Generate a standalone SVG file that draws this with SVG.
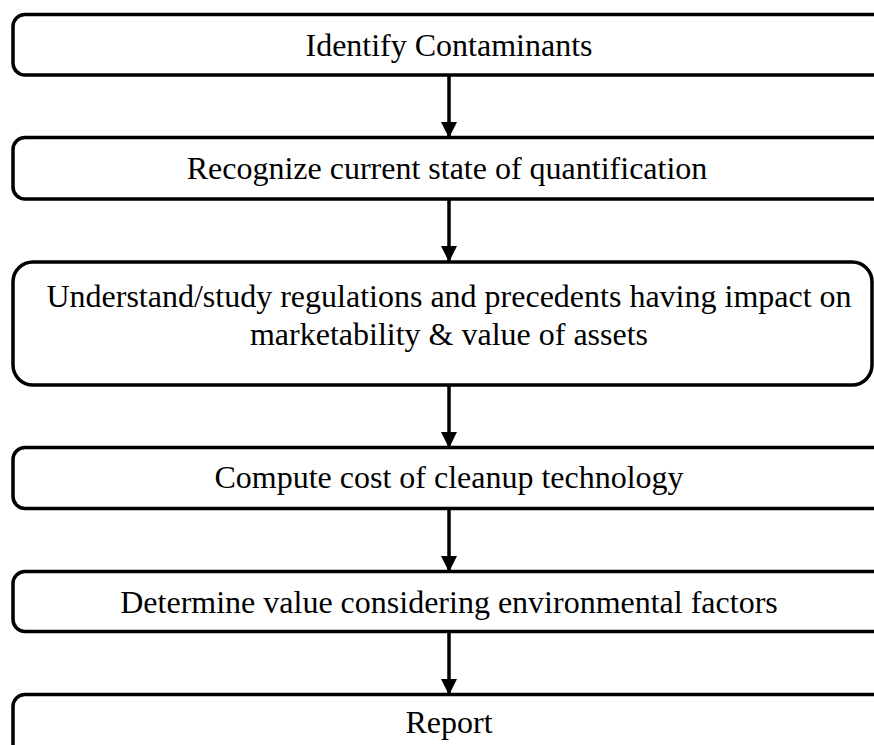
<svg xmlns="http://www.w3.org/2000/svg" width="874" height="745" viewBox="0 0 874 745">
<style>
.box{fill:#fff;stroke:#000;stroke-width:3.5}
.lbl{font-family:"Liberation Serif","Times New Roman",serif;font-size:32px;fill:#000;text-anchor:middle}
.conn{stroke:#000;stroke-width:3.5;fill:none;marker-end:url(#ah)}
</style>
<defs>
<marker id="ah" markerUnits="userSpaceOnUse" markerWidth="16" markerHeight="17" refX="15" refY="8" orient="auto">
<path d="M0,0 L16,8 L0,16 Z" fill="#000"/>
</marker>
</defs>
<rect width="874" height="745" fill="#fff"/>
<g id="n1"><rect class="box" x="13" y="14.5" width="890" height="60.5" rx="12"/><text class="lbl" x="449" y="56">Identify Contaminants</text></g>
<g id="n2"><rect class="box" x="13" y="137.5" width="890" height="61.5" rx="12"/><text class="lbl" x="447" y="179">Recognize current state of quantification</text></g>
<g id="n3"><rect class="box" x="13" y="262" width="859" height="123" rx="20"/><text class="lbl" x="449" y="307">Understand/study regulations and precedents having impact on</text><text class="lbl" x="449" y="345">marketability &amp; value of assets</text></g>
<g id="n4"><rect class="box" x="13" y="447.5" width="890" height="61" rx="12"/><text class="lbl" x="449" y="488">Compute cost of cleanup technology</text></g>
<g id="n5"><rect class="box" x="13" y="571.5" width="890" height="60" rx="12"/><text class="lbl" x="449" y="613">Determine value considering environmental factors</text></g>
<g id="n6"><rect class="box" x="13" y="694.5" width="890" height="80" rx="12"/><text class="lbl" x="449" y="733">Report</text></g>
<g id="connectors">
<line class="conn" x1="449" y1="75" x2="449" y2="137"/>
<line class="conn" x1="449" y1="199" x2="449" y2="261"/>
<line class="conn" x1="449" y1="385" x2="449" y2="447"/>
<line class="conn" x1="449" y1="509" x2="449" y2="571"/>
<line class="conn" x1="449" y1="632" x2="449" y2="694"/>
</g>
</svg>
